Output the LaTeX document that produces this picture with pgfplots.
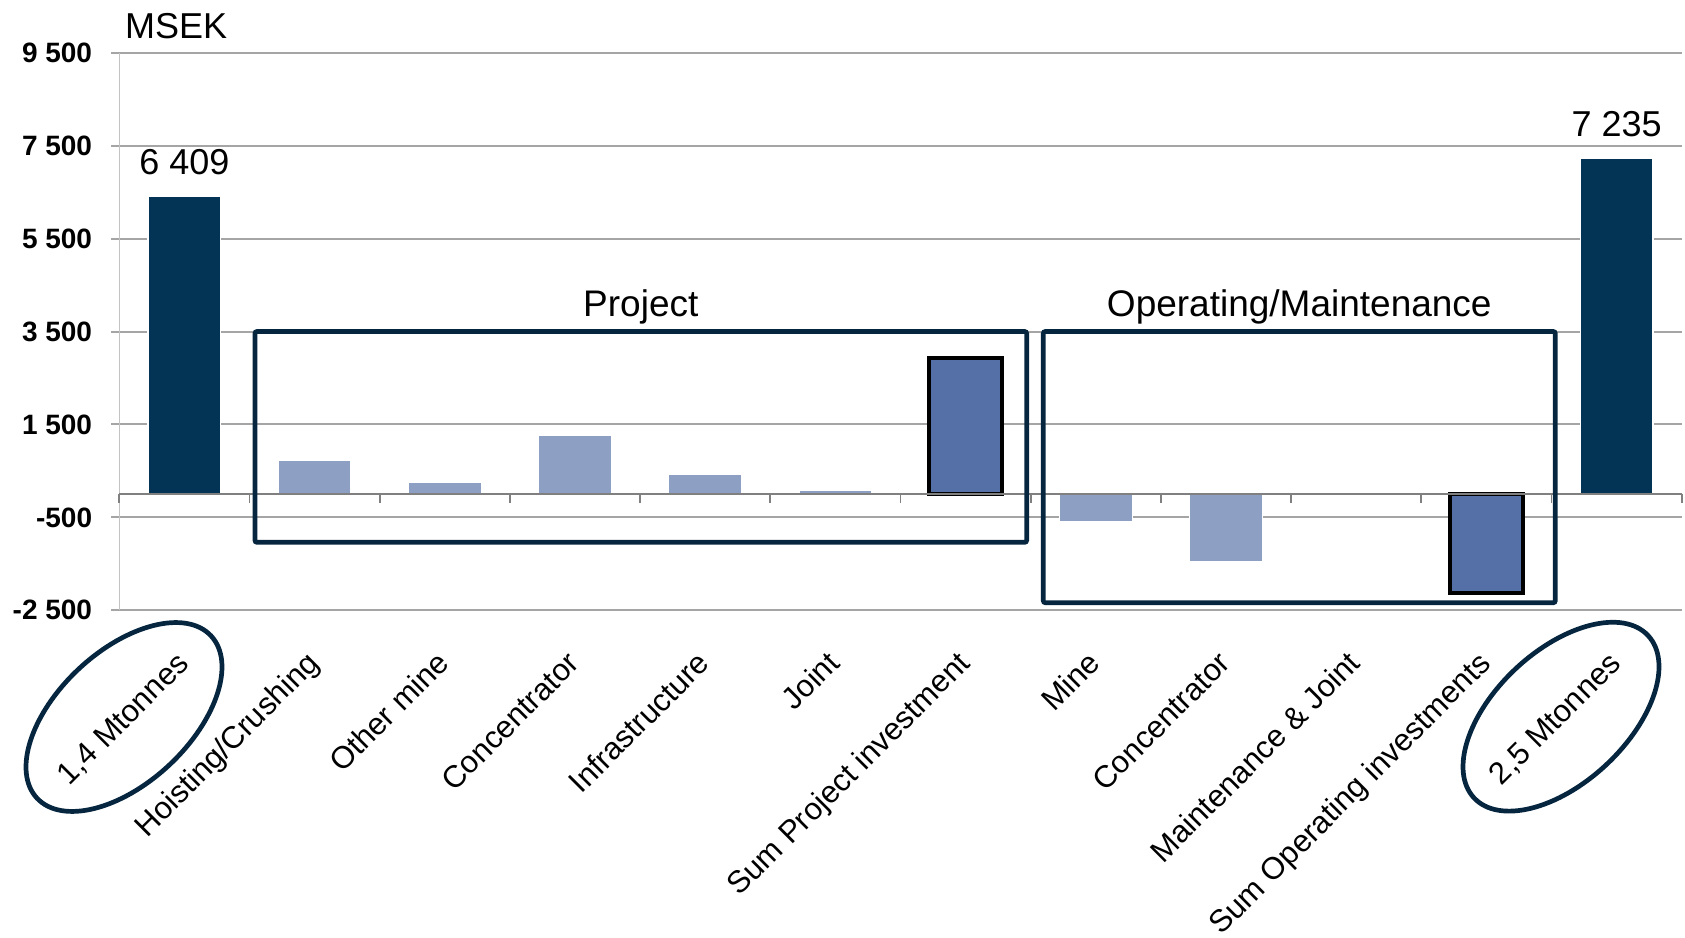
\documentclass[border=0pt]{standalone}
\usepackage{pgfplots}
\pgfplotsset{compat=1.18}
\usepackage{fontspec}
\setmainfont{Liberation Sans}
\definecolor{navy}{RGB}{3,52,86}
\definecolor{lightbar}{RGB}{141,160,196}
\definecolor{sumbar}{RGB}{84,112,166}
\definecolor{boxcol}{RGB}{6,38,64}
\definecolor{gridgray}{RGB}{165,165,165}
\definecolor{axisgray}{RGB}{195,195,195}
\definecolor{zerogray}{RGB}{128,128,128}

\begin{document}
\begin{tikzpicture}
\useasboundingbox (0,0) rectangle (1685pt,937pt);
\begin{axis}[
  at={(119.3pt,326.7pt)}, anchor=south west,
  scale only axis, width=1562.4pt, height=557.6pt,
  xmin=-0.5, xmax=11.5, ymin=-2500, ymax=9500,
  ybar, bar width=72.5pt,
  axis line style={draw=none},
  tick style={draw=none},
  major tick length=0pt,
  ytick={-2500,-500,1500,3500,5500,7500,9500},
  yticklabels={-2 500,-500,1 500,3 500,5 500,7 500,9 500},
  yticklabel style={font=\fontsize{28}{32}\selectfont\bfseries, anchor=east, inner sep=0pt, xshift=-27pt},
  ymajorgrids, grid style={gridgray, line width=2pt},
  xtick={0,...,11},
  xticklabels={{1,4 Mtonnes},Hoisting/Crushing,Other mine,Concentrator,Infrastructure,Joint,Sum Project investment,Mine,Concentrator,Maintenance \& Joint,Sum Operating investments,{2,5 Mtonnes}},
  xticklabel style={font=\fontsize{31}{36}\selectfont, xshift=6pt, yshift=-55pt, rotate=45, anchor=base east, inner sep=0pt},
  clip=false,
]
% left axis stubs and line
\pgfplotsinvokeforeach{-2500,-500,1500,3500,5500,7500,9500}{
  \draw[gridgray, line width=2pt] (axis cs:-0.5,#1) -- ([xshift=-8.3pt]axis cs:-0.5,#1);
}
\draw[axisgray, line width=1.5pt] (axis cs:-0.5,-2500) -- (axis cs:-0.5,9500);

\addplot[bar shift=0pt, fill=navy, draw=white, line width=1.5pt]
  coordinates {(0,6409) (11,7235)};
\addplot[bar shift=0pt, fill=lightbar, draw=white, line width=1pt]
  coordinates {(1,727) (2,260) (3,1272) (4,426) (5,88) (7,-579) (8,-1446) (9,0)};
\addplot[bar shift=0pt, fill=sumbar, draw=black, line width=4pt]
  coordinates {(6,2922) (10,-2122)};

% zero line with category ticks
\draw[zerogray, line width=2pt] (axis cs:-0.5,0) -- (axis cs:11.5,0);
\pgfplotsinvokeforeach{-0.5,0.5,1.5,2.5,3.5,4.5,5.5,6.5,7.5,8.5,9.5,10.5,11.5}{
  \draw[zerogray, line width=1.8pt] (axis cs:#1,0) -- ([yshift=-9pt]axis cs:#1,0);
}

% group boxes
\draw[boxcol, line width=4.7pt, rounded corners=2pt] (axis cs:0.542,3500) rectangle (axis cs:6.469,-1037);
\draw[boxcol, line width=4.7pt, rounded corners=2pt] (axis cs:6.597,3500) rectangle (axis cs:10.529,-2337);
\node[anchor=base, inner sep=0pt, font=\fontsize{37}{42}\selectfont, yshift=15pt] at (axis cs:3.5055,3500) {Project};
\node[anchor=base, inner sep=0pt, font=\fontsize{37}{42}\selectfont, yshift=15pt] at (axis cs:8.563,3500) {Operating/Maintenance};

% value labels
\node[anchor=base, inner sep=0pt, font=\fontsize{36}{40}\selectfont, yshift=21.6pt] at (axis cs:0,6409) {6 409};
\node[anchor=base, inner sep=0pt, font=\fontsize{36}{40}\selectfont, yshift=21.6pt] at (axis cs:11,7235) {7 235};
\end{axis}

\node[anchor=base west, inner sep=0pt, font=\fontsize{36}{40}\selectfont] at (125pt,898pt) {MSEK};
\draw[boxcol, line width=4.7pt, rotate around={43:(124pt,220pt)}] (124pt,220pt) ellipse (119pt and 66pt);
\draw[boxcol, line width=4.7pt, rotate around={43:(1561pt,220.3pt)}] (1561pt,220.3pt) ellipse (119pt and 66pt);
\end{tikzpicture}
\end{document}
